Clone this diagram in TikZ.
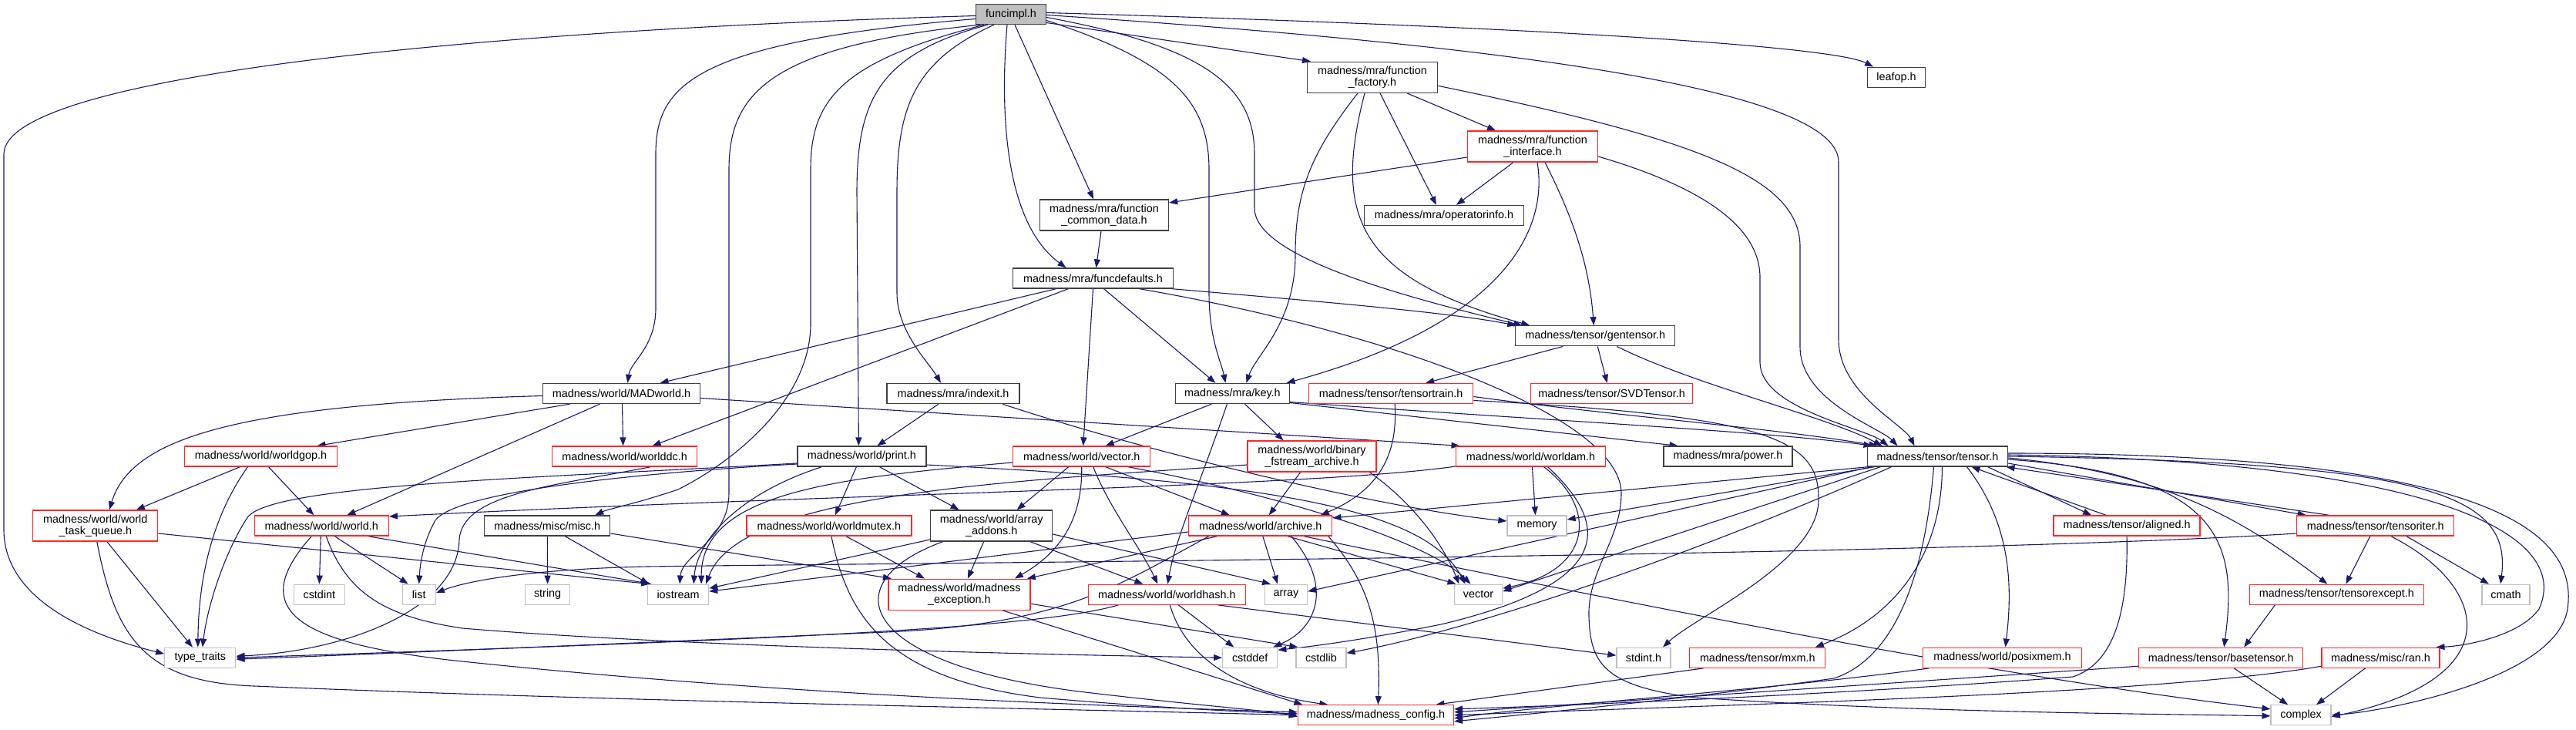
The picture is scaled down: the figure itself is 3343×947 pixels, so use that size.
\documentclass[tikz,border=0pt]{standalone}
\usepackage{fontspec}
\setmainfont{Liberation Sans}
\usetikzlibrary{arrows.meta,backgrounds}
\definecolor{edgec}{RGB}{25,25,112}
\definecolor{redb}{RGB}{255,40,40}
\definecolor{grayb}{RGB}{191,191,191}
\definecolor{darkb}{RGB}{64,64,64}
\definecolor{rootf}{RGB}{191,191,191}
\begin{document}
\begin{tikzpicture}[x=1pt,y=-1pt,
  box/.style={draw, rectangle, inner sep=0pt, align=center, font=\fontsize{14.4}{15}\selectfont, line width=1.3pt, minimum height=26pt, fill=white},
  nb/.style={box, draw=darkb},
  nr/.style={box, draw=redb},
  ng/.style={box, draw=grayb},
  nroot/.style={box, draw=darkb, fill=rootf},
  two/.style={minimum height=40pt},
  edg/.style={draw=edgec, line width=1.1pt, -{Triangle[length=11pt,width=8pt]}},
]
\useasboundingbox (0,0) rectangle (3343,947);
% ---------- nodes ----------
\node[nroot, minimum width=91pt] (fi) at (1312,18.5) {funcimpl.h};
\node[nb, two, minimum width=169pt] (ff) at (1781,100.3) {madness/mra/function\\\_factory.h};
\node[nb, minimum width=75pt] (leaf) at (2461,100.3) {leafop.h};
\node[nr, two, minimum width=169pt] (fint) at (1989,190) {madness/mra/function\\\_interface.h};
\node[nb, two, minimum width=167pt] (fcd) at (1433,279) {madness/mra/function\\\_common\_data.h};
\node[nb, minimum width=207pt] (opi) at (1874,279.5) {madness/mra/operatorinfo.h};
\node[nb, minimum width=208pt] (fd) at (1418.5,361) {madness/mra/funcdefaults.h};
\node[nb, minimum width=207pt] (gt) at (2070.3,435.8) {madness/tensor/gentensor.h};
\node[nb, minimum width=204pt] (mw) at (806.5,510.5) {madness/world/MADworld.h};
\node[nb, minimum width=172pt] (idx) at (1237,510.5) {madness/mra/indexit.h};
\node[nb, minimum width=148pt] (key) at (1599.4,510.5) {madness/mra/key.h};
\node[nr, minimum width=213pt] (tt) at (1805.2,510.5) {madness/tensor/tensortrain.h};
\node[nr, minimum width=210pt] (svd) at (2091.7,510.5) {madness/tensor/SVDTensor.h};
\node[nr, minimum width=198pt] (gop) at (338.5,592) {madness/world/worldgop.h};
\node[nr, minimum width=188pt] (ddc) at (810.6,592) {madness/world/worlddc.h};
\node[nb, minimum width=167pt] (prt) at (1118.4,592) {madness/world/print.h};
\node[nr, minimum width=178pt] (vec) at (1403.7,592) {madness/world/vector.h};
\node[nr, two, minimum width=167pt] (bfa) at (1702.5,592) {madness/world/binary\\\_fstream\_archive.h};
\node[nr, minimum width=194pt] (wam) at (1986.5,592) {madness/world/worldam.h};
\node[nb, minimum width=167pt] (pow) at (2242.5,592) {madness/mra/power.h};
\node[nb, minimum width=182pt] (ten) at (2514.5,592) {madness/tensor/tensor.h};
\node[nr, two, minimum width=162pt] (wtq) at (123.8,682) {madness/world/world\\\_task\_queue.h};
\node[nr, minimum width=174pt] (wld) at (417.3,682) {madness/world/world.h};
\node[nb, minimum width=163pt] (misc) at (710.3,682) {madness/misc/misc.h};
\node[nr, minimum width=214pt] (mtx) at (1075.9,682) {madness/world/worldmutex.h};
\node[nb, two, minimum width=158pt] (aa) at (1286.7,682) {madness/world/array\\\_addons.h};
\node[nr, minimum width=186pt] (arc) at (1635.8,682) {madness/world/archive.h};
\node[ng, minimum width=77pt] (mem) at (1994.5,682) {memory};
\node[nr, minimum width=190pt] (alg) at (2760.1,682) {madness/tensor/aligned.h};
\node[nr, minimum width=204pt] (tit) at (3082.8,682) {madness/tensor/tensoriter.h};
\node[ng, minimum width=66pt] (cint) at (414.4,771.2) {cstdint};
\node[ng, minimum width=43pt] (lst) at (543.7,771.2) {list};
\node[ng, minimum width=58pt] (str) at (710.6,771.2) {string};
\node[ng, minimum width=79pt] (ios) at (880.1,771.2) {iostream};
\node[nr, two, minimum width=184pt] (mex) at (1244.9,771.2) {madness/world/madness\\\_exception.h};
\node[nr, minimum width=204pt] (wh) at (1514.3,771.2) {madness/world/worldhash.h};
\node[ng, minimum width=55pt] (arr) at (1669,771.2) {array};
\node[ng, minimum width=62pt] (svec) at (1918.5,771.2) {vector};
\node[nr, minimum width=226pt] (tex) at (3032.4,771.2) {madness/tensor/tensorexcept.h};
\node[ng, minimum width=62pt] (cm) at (3252,771.2) {cmath};
\node[ng, minimum width=92pt] (tty) at (259.8,853.2) {type\_traits};
\node[ng, minimum width=71pt] (cdef) at (1622.2,853.2) {cstddef};
\node[ng, minimum width=65pt] (clib) at (1714.4,853.2) {cstdlib};
\node[ng, minimum width=70pt] (sint) at (2133,853.2) {stdint.h};
\node[nr, minimum width=176pt] (mxm) at (2280.8,853.2) {madness/tensor/mxm.h};
\node[nr, minimum width=206pt] (pmem) at (2598.5,853.2) {madness/world/posixmem.h};
\node[nr, minimum width=213pt] (bt) at (2882.2,853.2) {madness/tensor/basetensor.h};
\node[nr, minimum width=153pt] (ran) at (3089.5,853.2) {madness/misc/ran.h};
\node[nr, minimum width=202pt] (cfg) at (1785.4,927.8) {madness/madness\_config.h};
\node[ng, minimum width=78pt] (cpx) at (2986.1,927.8) {complex};
% ---------- edges ----------
\begin{pgfonlayer}{background}
% funcimpl.h
\draw[edg] ([yshift=-2pt]fi.west) .. controls (600,40) and (5,100) .. (5,200) -- (5,687) .. controls (5,780) and (120,825) .. ([yshift=5pt]tty.west);
\draw[edg] ([yshift=-6pt]fi.west) .. controls (900,55) and (851,110) .. (851,200) -- (851,400) .. controls (851,450) and (818,470) .. ([xshift=8pt]mw.north);
\draw[edg] ([xshift=-40pt]fi.south) .. controls (1000,60) and (946,120) .. (946,220) -- (946,640) .. controls (946,700) and (885,720) .. ([xshift=2pt]ios.north);
\draw[edg] ([xshift=-35pt]fi.south) .. controls (1090,80) and (1052,130) .. (1052,220) -- (1052,420) .. controls (1052,520) and (950,600) .. (880,635) .. controls (820,655) and (790,660) .. ([xshift=62pt]misc.north);
\draw[edg] ([xshift=-30pt]fi.south) .. controls (1140,70) and (1112,130) .. (1112,250) -- ([xshift=-4pt]prt.north);
\draw[edg] ([xshift=-22pt]fi.south) .. controls (1185,80) and (1164,140) .. (1164,250) -- (1164,380) .. controls (1164,430) and (1205,470) .. ([xshift=-16pt]idx.north);
\draw[edg] ([xshift=-5pt]fi.south) .. controls (1297,150) and (1305,290) .. ([xshift=-35pt]fd.north);
\draw[edg] ([xshift=5pt]fi.south) -- ([xshift=-14pt]fcd.north);
\draw[edg] ([yshift=-8pt]fi.east) .. controls (1520,80) and (1569,130) .. (1569,220) -- (1569,380) .. controls (1569,440) and (1585,470) .. ([xshift=-9pt]key.north);
\draw[edg] ([yshift=-4pt]fi.east) .. controls (1560,60) and (1628,110) .. (1628,200) -- (1628,270) .. controls (1628,330) and (1800,380) .. ([xshift=-95pt]gt.north);
\draw[edg] ([yshift=-11pt]fi.east) -- ([xshift=-80pt]ff.north);
\draw[edg] ([yshift=2pt]fi.east) .. controls (2000,35) and (2380,60) .. ([xshift=-30pt]leaf.north);
\draw[edg] ([yshift=-1pt]fi.east) .. controls (1900,55) and (2386,110) .. (2386,210) -- (2386,440) .. controls (2386,510) and (2470,550) .. ([xshift=-30pt]ten.north);
% function_factory.h
\draw[edg] ([xshift=45pt]ff.south) -- ([xshift=-48pt]fint.north);
\draw[edg] ([xshift=10pt]ff.south) -- ([xshift=-10pt]opi.north);
\draw[edg] ([xshift=-19pt]ff.south) .. controls (1700,200) and (1681,250) .. (1681,330) .. controls (1681,420) and (1630,460) .. ([xshift=18pt]key.north);
\draw[edg] ([xshift=-10pt]ff.south) .. controls (1730,280) and (1760,360) .. ([xshift=-85pt]gt.north);
\draw[edg] ([yshift=-11pt]ff.east) .. controls (2200,180) and (2336,230) .. (2336,320) -- (2336,450) .. controls (2336,520) and (2440,555) .. ([xshift=-52pt]ten.north);
% function_interface.h
\draw[edg] ([yshift=-14pt]fint.west) -- ([yshift=16pt]fcd.east);
\draw[edg] ([xshift=-25pt]fint.south) -- ([xshift=16pt]opi.north);
\draw[edg] ([xshift=6pt]fint.south) .. controls (2010,300) and (1950,420) .. ([xshift=70pt]key.north);
\draw[edg] ([xshift=16pt]fint.south) .. controls (2040,280) and (2062,340) .. ([xshift=-2pt]gt.north);
\draw[edg] ([yshift=-13pt]fint.east) .. controls (2200,240) and (2284,290) .. (2284,360) -- (2284,470) .. controls (2284,530) and (2420,555) .. ([xshift=-64pt]ten.north);
% function_common_data.h
\draw[edg] ([xshift=-4pt]fcd.south) -- ([xshift=4pt]fd.north);
% funcdefaults.h
\draw[edg] ([xshift=-48pt]fd.south) -- ([xshift=50pt]mw.north);
\draw[edg] ([xshift=-32pt]fd.south) -- ([xshift=36pt]ddc.north);
\draw[edg] (fd.south) -- ([xshift=2pt]vec.north);
\draw[edg] ([xshift=14pt]fd.south) -- ([xshift=-22pt]key.north);
\draw[edg] ([xshift=102pt]fd.south) .. controls (1700,390) and (1880,405) .. ([xshift=-103pt]gt.north);
\draw[edg] ([xshift=60pt]fd.south) .. controls (1800,430) and (2104,540) .. (2104,640) .. controls (2104,700) and (2060,740) .. (2062,800) .. controls (2064,860) and (2080,890) .. (2200,905) .. controls (2500,925) and (2800,926) .. ([yshift=-1pt]cpx.west);
% gentensor.h
\draw[edg] ([xshift=-42pt]gt.south) -- ([xshift=45pt]tt.north);
\draw[edg] ([xshift=3pt]gt.south) -- ([xshift=-6pt]svd.north);
\draw[edg] ([xshift=28pt]gt.south) .. controls (2200,500) and (2370,540) .. ([xshift=-72pt]ten.north);
% MADworld.h
\draw[edg] ([yshift=-3pt]mw.west) .. controls (300,525) and (170,570) .. ([xshift=18pt]wtq.north);
\draw[edg] ([xshift=-67pt]mw.south) -- ([xshift=73pt]gop.north);
\draw[edg] ([xshift=-28pt]mw.south) -- ([xshift=33pt]wld.north);
\draw[edg] ([xshift=1pt]mw.south) -- ([xshift=-2pt]ddc.north);
\draw[edg] ([yshift=-6pt]mw.east) -- ([xshift=-92pt]wam.north);
% indexit.h
\draw[edg] ([xshift=-19pt]idx.south) -- ([xshift=20pt]prt.north);
\draw[edg] ([xshift=64pt]idx.south) .. controls (1500,590) and (1800,660) .. ([yshift=6pt]mem.west);
% key.h
\draw[edg] ([xshift=-27pt]key.south) -- ([xshift=31pt]vec.north);
\draw[edg] ([xshift=16pt]key.south) -- ([xshift=-37pt]bfa.north);
\draw[edg] ([xshift=-7pt]key.south) .. controls (1560,620) and (1525,700) .. ([xshift=1pt]wh.north);
\draw[edg] ([yshift=-12pt]key.east) -- ([xshift=-65pt]pow.north);
\draw[edg] ([yshift=-11pt]key.east) .. controls (2000,545) and (2300,560) .. ([xshift=-85pt]ten.north);
% tensortrain.h
\draw[edg] ([xshift=5pt]tt.south) .. controls (1815,600) and (1780,640) .. ([xshift=78pt]arc.north);
\draw[edg] ([yshift=-4pt]tt.east) .. controls (2100,540) and (2300,555) .. ([xshift=-78pt]ten.north);
\draw[edg] ([yshift=-9pt]tt.east) .. controls (2300,540) and (2362,570) .. (2360,650) .. controls (2358,730) and (2200,800) .. ([xshift=25pt]sint.north);
% binary_fstream_archive.h
\draw[edg] ([xshift=-15pt]bfa.south) -- ([xshift=11pt]arc.north);
\draw[edg] ([yshift=-11pt]bfa.west) .. controls (1300,625) and (960,640) .. ([xshift=36pt]ios.north);
\draw[edg] ([xshift=75pt]bfa.south) .. controls (1830,650) and (1870,700) .. ([xshift=-25pt]svec.north);
% world/vector.h
\draw[edg] ([xshift=-17pt]vec.south) -- ([xshift=33pt]aa.north);
\draw[edg] (vec.south) .. controls (1405,680) and (1370,720) .. ([xshift=72pt]mex.north);
\draw[edg] ([xshift=15pt]vec.south) .. controls (1440,660) and (1480,710) .. ([xshift=-12pt]wh.north);
\draw[edg] ([xshift=31pt]vec.south) -- ([xshift=-40pt]arc.north);
\draw[edg] ([xshift=60pt]vec.south) .. controls (1650,640) and (1850,700) .. ([xshift=-10pt]svec.north);
\draw[edg] ([yshift=-8pt]vec.west) .. controls (1080,620) and (910,640) .. ([xshift=30pt]ios.north);
% print.h
\draw[edg] ([xshift=-7pt]prt.south) -- ([xshift=8pt]mtx.north);
\draw[edg] ([xshift=23pt]prt.south) -- ([xshift=-42pt]aa.north);
\draw[edg] ([xshift=-52pt]prt.south) .. controls (960,640) and (905,700) .. ([xshift=20pt]ios.north);
\draw[edg] ([yshift=-10pt]prt.west) .. controls (800,615) and (590,640) .. (565,675) .. controls (548,705) and (545,735) .. (lst.north);
\draw[edg] ([yshift=-9pt]prt.west) .. controls (700,620) and (360,628) .. (322,670) .. controls (295,710) and (270,780) .. ([xshift=3pt]tty.north);
\draw[edg] ([yshift=-11pt]prt.east) .. controls (1650,625) and (1850,660) .. ([xshift=-17pt]svec.north);
% worlddc.h
\draw[edg] ([xshift=34pt]ddc.south) .. controls (720,630) and (600,640) .. (596,700) .. controls (594,790) and (450,845) .. ([yshift=2pt]tty.east);
% worldgop.h
\draw[edg] ([xshift=-27pt]gop.south) -- ([xshift=53pt]wtq.north);
\draw[edg] ([xshift=-17pt]gop.south) .. controls (290,650) and (258,720) .. ([xshift=-3pt]tty.north);
\draw[edg] ([xshift=10pt]gop.south) -- ([xshift=-10pt]wld.north);
% world_task_queue.h
\draw[edg] ([xshift=15pt]wtq.south) -- ([xshift=-10pt]tty.north);
\draw[edg] ([yshift=-10pt]wtq.east) -- ([xshift=-37pt]ios.north);
\draw[edg] ([xshift=2pt]wtq.south) .. controls (150,830) and (190,885) .. (330,890) .. controls (800,910) and (1400,920) .. (cfg.west);
% world.h
\draw[edg] ([xshift=-1pt]wld.south) -- (cint.north);
\draw[edg] ([xshift=17pt]wld.south) -- ([xshift=-14pt]lst.north);
\draw[edg] ([xshift=60pt]wld.south) -- ([xshift=-35pt]ios.north);
\draw[edg] ([xshift=6pt]wld.south) .. controls (450,770) and (500,800) .. (600,815) .. controls (900,840) and (1400,850) .. (cdef.west);
\draw[edg] ([xshift=-13pt]wld.south) .. controls (320,790) and (380,835) .. (600,858) .. controls (1000,900) and (1400,915) .. ([yshift=4pt]cfg.west);
% misc.h
\draw[edg] (misc.south) -- (str.north);
\draw[edg] ([xshift=23pt]misc.south) -- ([xshift=-38pt]ios.north);
\draw[edg] ([yshift=-10pt]misc.east) -- ([xshift=-88pt]mex.north);
% worldmutex.h
\draw[edg] ([xshift=22pt]mtx.south) -- ([xshift=-45pt]mex.north);
\draw[edg] ([xshift=3pt]mtx.south) .. controls (1100,800) and (1150,880) .. (1350,905) .. controls (1500,918) and (1620,924) .. ([yshift=2pt]cfg.west);
% array_addons.h
\draw[edg] ([yshift=-18pt]aa.west) -- ([yshift=8pt]ios.east);
\draw[edg] ([xshift=-10pt]aa.south) -- ([xshift=11pt]mex.north);
\draw[edg] ([xshift=50pt]aa.south) -- ([xshift=-31pt]wh.north);
\draw[edg] ([yshift=-11pt]aa.east) -- ([xshift=-20pt]arr.north);
\draw[edg] ([xshift=-63pt]aa.south) .. controls (1080,755) and (1110,860) .. (1400,897) .. controls (1550,915) and (1650,922) .. ([yshift=-2pt]cfg.west);
% archive.h
\draw[edg] ([yshift=-8pt]arc.west) -- ([yshift=4pt]ios.east);
\draw[edg] ([xshift=-56pt]arc.south) -- ([xshift=88pt]mex.north);
\draw[edg] ([xshift=-67pt]arc.south) .. controls (1450,760) and (1380,810) .. (1150,820) .. controls (800,835) and (500,848) .. ([yshift=-2pt]tty.east);
\draw[edg] ([xshift=3pt]arc.south) -- ([xshift=-11pt]arr.north);
\draw[edg] ([xshift=40pt]arc.south) .. controls (1730,760) and (1710,815) .. ([xshift=30pt]cdef.north);
\draw[edg] ([xshift=35pt]arc.south) -- ([xshift=-29pt]svec.north);
\draw[edg] ([xshift=56pt]arc.south) .. controls (2100,780) and (2600,880) .. ([yshift=8pt]cpx.west);
\draw[edg] ([xshift=88pt]arc.south) .. controls (1780,760) and (1792,820) .. ([xshift=3pt]cfg.north);
% madness_exception.h
\draw[edg] ([yshift=-12pt]mex.east) -- ([xshift=-30pt]clib.north);
\draw[edg] ([xshift=56pt]mex.south) -- ([xshift=-95pt]cfg.north);
% worldhash.h
\draw[edg] ([xshift=-63pt]wh.south) .. controls (1350,815) and (1000,830) .. (tty.east);
\draw[edg] ([xshift=15pt]wh.south) -- ([xshift=-21pt]cdef.north);
\draw[edg] ([xshift=66pt]wh.south) -- ([yshift=3pt]sint.west);
\draw[edg] ([xshift=4pt]wh.south) .. controls (1540,860) and (1620,900) .. ([xshift=-62pt]cfg.north);
% worldam.h
\draw[edg] ([yshift=-13pt]wam.west) .. controls (1700,632) and (1100,640) .. ([yshift=12pt]wld.east);
\draw[edg] ([xshift=2pt]wam.south) -- ([xshift=-2pt]mem.north);
\draw[edg] ([xshift=17pt]wam.south) .. controls (2075,660) and (2065,740) .. ([yshift=8pt]svec.east);
\draw[edg] ([xshift=22pt]wam.south) .. controls (2100,690) and (2080,760) .. (1870,810) .. controls (1760,832) and (1690,840) .. ([yshift=10pt]cdef.east);
% tensor.h
\draw[edg] ([xshift=-90pt]ten.south) -- ([yshift=10pt]arc.east);
\draw[edg] ([xshift=-82pt]ten.south) -- ([yshift=8pt]mem.east);
\draw[edg] ([xshift=-74pt]ten.south) -- ([yshift=4pt]svec.east);
\draw[edg] ([xshift=-86pt]ten.south) -- ([yshift=4pt]arr.east);
\draw[edg] ([xshift=-60pt]ten.south) .. controls (2200,720) and (1900,820) .. ([yshift=6pt]clib.east);
\draw[edg] ([xshift=6pt]ten.south) .. controls (2520,720) and (2460,800) .. ([xshift=75pt]mxm.north);
\draw[edg] ([xshift=38pt]ten.south) .. controls (2610,680) and (2612,760) .. ([xshift=4pt]pmem.north);
\draw[edg] ([xshift=-5pt]ten.south) .. controls (2500,720) and (2470,850) .. (2380,880) .. controls (2200,905) and (2000,925) .. ([yshift=-8pt]cfg.east);
\draw[edg] ([xshift=65pt]ten.south) -- ([xshift=-46pt]alg.north);
\draw[edg] ([yshift=-9pt]ten.east) -- ([xshift=-90pt]tit.north);
\draw[edg] ([yshift=-4pt]ten.east) .. controls (2880,615) and (2905,700) .. ([xshift=4pt]bt.north);
\draw[edg] ([yshift=-2pt]ten.east) .. controls (2830,615) and (2930,690) .. ([xshift=-12pt]tex.north);
\draw[edg] (ten.east) .. controls (3150,600) and (3260,640) .. ([xshift=-7pt]cm.north);
\draw[edg] ([yshift=2pt]ten.east) .. controls (3150,598) and (3340,690) .. (3295,790) .. controls (3270,825) and (3200,838) .. ([xshift=72pt]ran.north);
\draw[edg] ([yshift=4pt]ten.east) .. controls (3260,588) and (3345,700) .. (3332,790) .. controls (3318,880) and (3100,922) .. (cpx.east);
% aligned.h
\draw[edg] ([xshift=-27pt]alg.north) -- ([xshift=44pt]ten.south);
\draw[edg] (alg.south) .. controls (2762,790) and (2745,860) .. (2690,878) .. controls (2400,900) and (2050,915) .. ([yshift=8pt]cfg.east);
% tensoriter.h
\draw[edg] ([xshift=-60pt]tit.north) -- ([xshift=89pt]ten.south);
\draw[edg] ([xshift=-7pt]tit.south) -- ([xshift=12pt]tex.north);
\draw[edg] ([xshift=40pt]tit.south) -- ([xshift=-22pt]cm.north);
\draw[edg] ([xshift=20pt]tit.south) .. controls (3230,760) and (3260,880) .. ([yshift=-2pt]cpx.east);
\draw[edg] ([yshift=-10pt]tit.west) .. controls (2500,722) and (1200,730) .. (840,735) .. controls (700,738) and (610,752) .. ([yshift=2pt]lst.east);
% tensorexcept.h, basetensor.h, ran.h, posixmem.h, mxm.h
\draw[edg] ([xshift=-80pt]tex.south) -- ([xshift=30pt]bt.north);
\draw[edg] ([xshift=17pt]bt.south) -- ([xshift=-17pt]cpx.north);
\draw[edg] ([yshift=-11pt]bt.west) .. controls (2400,890) and (2100,910) .. ([yshift=4pt]cfg.east);
\draw[edg] ([xshift=-20pt]ran.south) -- ([xshift=20pt]cpx.north);
\draw[edg] ([yshift=-11pt]ran.west) .. controls (2800,902) and (2200,915) .. (cfg.east);
\draw[edg] ([xshift=-95pt]pmem.south) .. controls (2300,895) and (2000,915) .. ([yshift=-4pt]cfg.east);
\draw[edg] ([xshift=-70pt]mxm.south) -- ([xshift=78pt]cfg.north);
\end{pgfonlayer}
\end{tikzpicture}
\end{document}
